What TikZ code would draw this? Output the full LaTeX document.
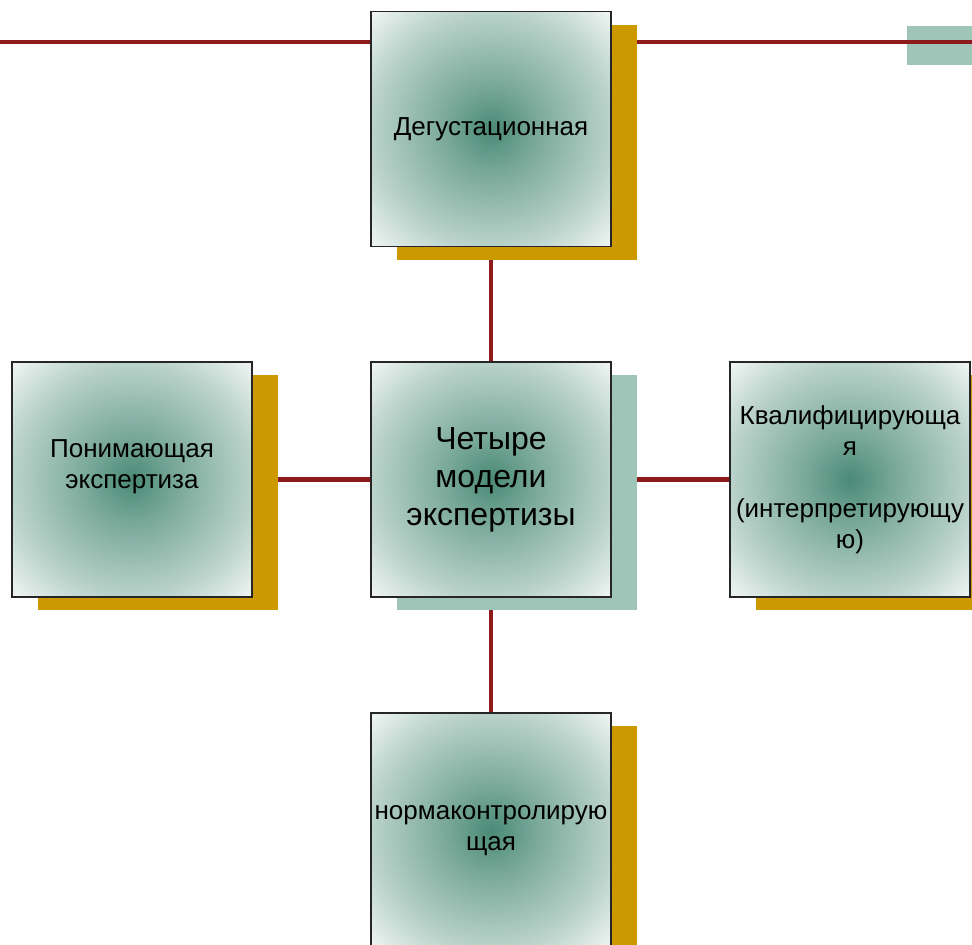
\documentclass[tikz,border=0pt]{standalone}
\usepackage{fontspec}
\setmainfont{Liberation Sans}
\usetikzlibrary{shadows,backgrounds}
\definecolor{linered}{RGB}{142,27,27}
\definecolor{shadegold}{RGB}{204,153,0}
\definecolor{shadeteal}{RGB}{158,197,184}
\definecolor{glowdark}{RGB}{74,138,118}
\pgfdeclareradialshading{glow}{\pgfpoint{0bp}{0bp}}{%
  color(0bp)=(glowdark); color(9bp)=(glowdark!75!white);
  color(25bp)=(glowdark!38!white); color(36bp)=(glowdark!6!white);
  color(50bp)=(white)}
\tikzset{
  model/.style={draw=black!85, line width=1.2pt, shading=glow,
    minimum width=240pt, minimum height=235pt, inner sep=0pt,
    align=center, font=\fontsize{26}{31}\selectfont,
    drop shadow={shadow xshift=26pt, shadow yshift=-13pt, fill=#1, opacity=1}},
  model/.default=shadegold,
  link/.style={linered, line width=4.5pt}
}
\begin{document}
\begin{tikzpicture}[x=1pt,y=-1pt]
  \useasboundingbox (0,0) rectangle (972,945);
  % four models round the centre
  \node[model] (taste) at (491,129) {Дегустационная};
  \node[model=shadeteal, font=\fontsize{32}{38}\selectfont] (core) at (491,479.5)
       {Четыре\\модели\\экспертизы};
  \node[model] (grasp) at (132,479.5) {Понимающая\\экспертиза\\\mbox{}};
  \node[model] (qualify) at (850,479.5)
       {Квалифицирующа\\я\\[31pt](интерпретирующу\\ю)};
  \node[model] (norm) at (491,830.5) {нормаконтролирую\\щая};
  \coordinate (rule west) at (0,42);
  \coordinate (rule east) at (972,42);
  \begin{scope}[on background layer]
    \fill[shadeteal] (907,26) rectangle (972,65);
    \draw[link] (rule west) -- (rule east);
    \draw[link] (taste) -- (core);
    \draw[link] (core) -- (norm);
    \draw[link] (grasp) -- (core);
    \draw[link] (core) -- (qualify);
  \end{scope}
\end{tikzpicture}
\end{document}
